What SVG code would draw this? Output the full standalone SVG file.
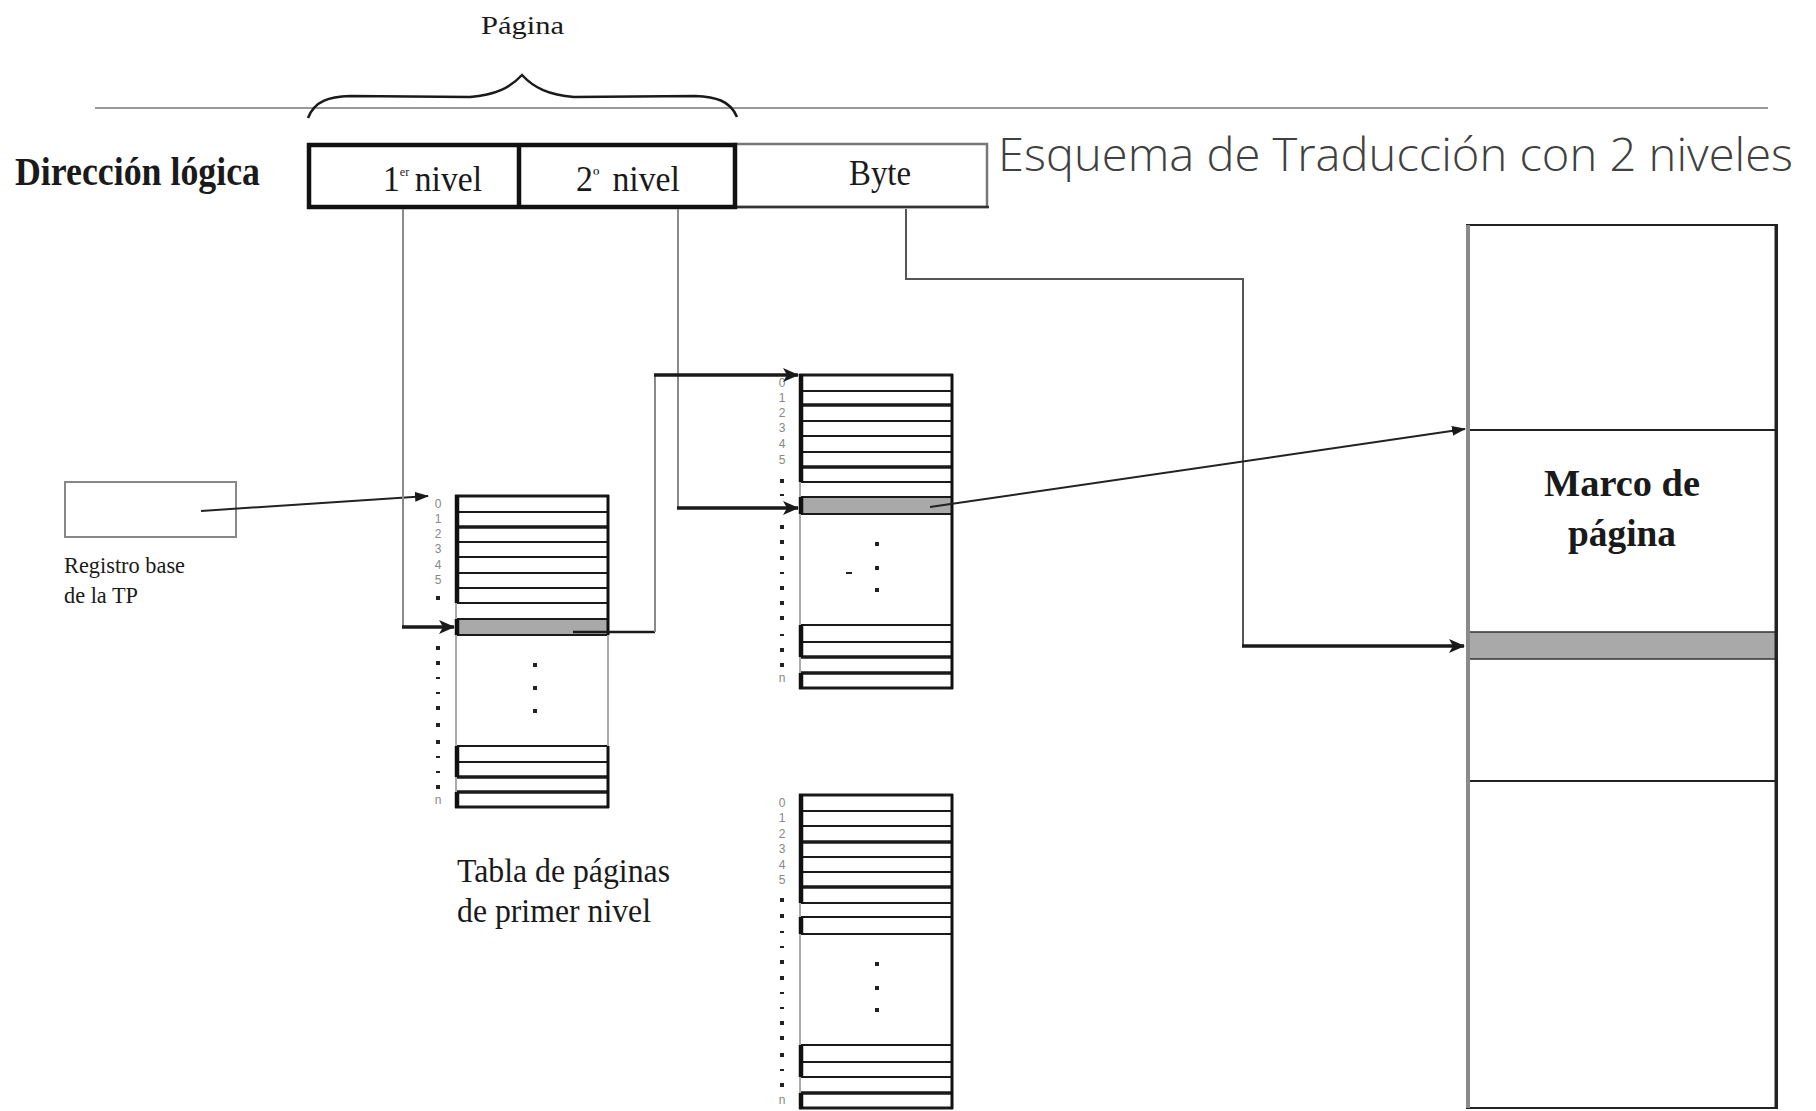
<svg xmlns="http://www.w3.org/2000/svg" width="1816" height="1111" viewBox="0 0 1816 1111">
<style>
.serif{font-family:"Liberation Serif","Times New Roman",serif;fill:#1a1a1a}
.bold{font-weight:bold}
.idx{font-family:"Liberation Sans",Arial,sans-serif;font-size:12px;fill:#888;text-anchor:middle}
.row{stroke:#1a1a1a;stroke-width:2}
.rowb{stroke:#1a1a1a;stroke-width:3.5}
.edge{stroke:#111;stroke-width:4.5}
.edger{stroke:#111;stroke-width:3}
.edgeg{stroke:#aaa;stroke-width:2}
.conn-g{stroke:#8a8a8a;stroke-width:2;fill:none}
.conn-d{stroke:#555;stroke-width:2;fill:none}
.conn-k{stroke:#1a1a1a;stroke-width:3.5;fill:none}
.dot{fill:#222}
</style>
<defs>
<marker id="ah" markerUnits="userSpaceOnUse" markerWidth="16" markerHeight="14" refX="15" refY="7" orient="auto">
<path d="M0,0 L16,7 L0,14 L4,7 z" fill="#1a1a1a"/>
</marker>
<marker id="as" markerUnits="userSpaceOnUse" markerWidth="14" markerHeight="10" refX="13" refY="5" orient="auto">
<path d="M0,0 L14,5 L0,10 z" fill="#1a1a1a"/>
</marker>
</defs>
<rect width="1816" height="1111" fill="#fff"/>

<g id="header">
<line x1="95" y1="108" x2="1768" y2="108" stroke="#777" stroke-width="1.5"/>
<path d="M308,118 C315,100 330,97 350,96 L470,97 C495,95 510,88 522,75 C534,88 549,95 574,97 L695,96 C715,97 730,100 737,117" fill="none" stroke="#1a1a1a" stroke-width="2.5"/>
<text class="serif" x="481" y="34" font-size="26" textLength="83" lengthAdjust="spacingAndGlyphs">Página</text>
<text class="serif bold" x="15" y="185" font-size="40" textLength="245" lengthAdjust="spacingAndGlyphs">Dirección lógica</text>
<text x="998" y="171" font-family="'Open Sans','Noto Sans',sans-serif" font-weight="300" font-size="46" fill="#404040" textLength="795" lengthAdjust="spacingAndGlyphs">Esquema de Traducción con 2 niveles</text>
</g>

<g id="direccion">
<rect x="735" y="144" width="252" height="63" fill="#fff" stroke="#777" stroke-width="2.5"/>
<line x1="735" y1="207" x2="989" y2="207" stroke="#333" stroke-width="2.5"/>
<rect x="309" y="145" width="426" height="62" fill="none" stroke="#111" stroke-width="4.5"/>
<line x1="519" y1="145" x2="519" y2="207" stroke="#111" stroke-width="4.5"/>
<text class="serif" x="383" y="191" font-size="36" textLength="99" lengthAdjust="spacingAndGlyphs">1<tspan font-size="13" dy="-15">er</tspan><tspan dx="6" dy="15">nivel</tspan></text>
<text class="serif" x="576" y="191" font-size="36" textLength="104" lengthAdjust="spacingAndGlyphs">2<tspan font-size="22" dy="-8">º</tspan><tspan dx="14" dy="8">nivel</tspan></text>
<text class="serif" x="849" y="185" font-size="36" textLength="62" lengthAdjust="spacingAndGlyphs">Byte</text>
</g>

<g id="registro">
<rect x="65" y="482" width="171" height="55" fill="none" stroke="#888" stroke-width="2"/>
<text class="serif" x="64" y="573" font-size="23" fill="#333" textLength="121" lengthAdjust="spacingAndGlyphs">Registro base</text>
<text class="serif" x="64" y="603" font-size="23" fill="#333" textLength="74" lengthAdjust="spacingAndGlyphs">de la TP</text>
</g>

<g id="tabla1">
<rect x="455" y="496" width="154" height="311" fill="#fff"/>
<rect x="455" y="619" width="154" height="16" fill="#a9a9a9"/>
<g class="row">
<line x1="455" y1="496" x2="609" y2="496" stroke-width="3"/>
<line x1="455" y1="512" x2="609" y2="512"/>
<line x1="455" y1="542" x2="609" y2="542"/>
<line x1="455" y1="557" x2="609" y2="557"/>
<line x1="455" y1="573" x2="609" y2="573"/>
<line x1="455" y1="588" x2="609" y2="588"/>
<line x1="455" y1="603" x2="609" y2="603"/>
<line x1="455" y1="619" x2="609" y2="619"/>
<line x1="455" y1="635" x2="609" y2="635"/>
<line x1="455" y1="746" x2="609" y2="746"/>
<line x1="455" y1="762" x2="609" y2="762"/>
<line x1="455" y1="807" x2="609" y2="807" stroke-width="3"/>
</g>
<line class="rowb" x1="455" y1="527" x2="609" y2="527"/>
<line class="rowb" x1="455" y1="777" x2="609" y2="777"/>
<line class="rowb" x1="455" y1="792" x2="609" y2="792"/>
<line class="edgeg" x1="456" y1="603" x2="456" y2="619"/>
<line class="edgeg" x1="456" y1="635" x2="456" y2="746"/>
<line class="edgeg" x1="456" y1="777" x2="456" y2="792"/>
<line class="edgeg" x1="608" y1="635" x2="608" y2="746"/>
<line class="edge" x1="457" y1="495" x2="457" y2="603"/>
<line class="edge" x1="457" y1="619" x2="457" y2="635"/>
<line class="edge" x1="457" y1="746" x2="457" y2="777"/>
<line class="edge" x1="457" y1="792" x2="457" y2="808"/>
<line class="edger" x1="608" y1="495" x2="608" y2="635"/>
<line class="edger" x1="608" y1="746" x2="608" y2="808"/>
<rect class="dot" x="533" y="663" width="4" height="4"/>
<rect class="dot" x="533" y="686" width="4" height="4"/>
<rect class="dot" x="533" y="709" width="4" height="4"/>
<text class="idx" x="438" y="508">0</text>
<text class="idx" x="438" y="523">1</text>
<text class="idx" x="438" y="538">2</text>
<text class="idx" x="438" y="553">3</text>
<text class="idx" x="438" y="569">4</text>
<text class="idx" x="438" y="584">5</text>
<g class="dot">
<rect x="436" y="596" width="4" height="4"/>
<rect x="436" y="646" width="4" height="4"/>
<rect x="436" y="661" width="4" height="4"/>
<rect x="436" y="677" width="4" height="2"/>
<rect x="436" y="692" width="4" height="2"/>
<rect x="436" y="706" width="4" height="4"/>
<rect x="436" y="723" width="4" height="4"/>
<rect x="436" y="740" width="4" height="4"/>
<rect x="436" y="756" width="4" height="2"/>
<rect x="436" y="771" width="4" height="2"/>
<rect x="436" y="785" width="4" height="4"/>
</g>
<text class="idx" x="438" y="804">n</text>
<text class="serif" x="457" y="882" font-size="34" textLength="213" lengthAdjust="spacingAndGlyphs">Tabla de páginas</text>
<text class="serif" x="457" y="922" font-size="34" textLength="194" lengthAdjust="spacingAndGlyphs">de primer nivel</text>
</g>

<g id="tabla2">
<rect x="799" y="375" width="154" height="313" fill="#fff"/>
<rect x="799" y="497" width="154" height="17" fill="#a9a9a9"/>
<g class="row">
<line x1="799" y1="375" x2="953" y2="375" stroke-width="3"/>
<line x1="799" y1="391" x2="953" y2="391"/>
<line x1="799" y1="421" x2="953" y2="421"/>
<line x1="799" y1="436" x2="953" y2="436"/>
<line x1="799" y1="452" x2="953" y2="452"/>
<line x1="799" y1="482" x2="953" y2="482"/>
<line x1="799" y1="497" x2="953" y2="497"/>
<line x1="799" y1="514" x2="953" y2="514"/>
<line x1="799" y1="625" x2="953" y2="625"/>
<line x1="799" y1="642" x2="953" y2="642"/>
<line x1="799" y1="688" x2="953" y2="688" stroke-width="3"/>
</g>
<line class="rowb" x1="799" y1="405" x2="953" y2="405"/>
<line class="rowb" x1="799" y1="467" x2="953" y2="467"/>
<line class="rowb" x1="799" y1="657" x2="953" y2="657"/>
<line class="rowb" x1="799" y1="673" x2="953" y2="673"/>
<line class="edgeg" x1="800" y1="482" x2="800" y2="497"/>
<line class="edgeg" x1="800" y1="514" x2="800" y2="625"/>
<line class="edgeg" x1="800" y1="657" x2="800" y2="673"/>
<line class="edge" x1="801" y1="374" x2="801" y2="482"/>
<line class="edge" x1="801" y1="497" x2="801" y2="514"/>
<line class="edge" x1="801" y1="625" x2="801" y2="657"/>
<line class="edge" x1="801" y1="673" x2="801" y2="689"/>
<line class="edger" x1="952" y1="374" x2="952" y2="689"/>
<rect class="dot" x="875" y="542" width="4" height="4"/>
<rect class="dot" x="875" y="566" width="4" height="4"/>
<rect class="dot" x="875" y="588" width="4" height="4"/>
<rect class="dot" x="846" y="572" width="6" height="2"/>
<text class="idx" x="782" y="387">0</text>
<text class="idx" x="782" y="402">1</text>
<text class="idx" x="782" y="417">2</text>
<text class="idx" x="782" y="432">3</text>
<text class="idx" x="782" y="448">4</text>
<text class="idx" x="782" y="464">5</text>
<g class="dot">
<rect x="780" y="479" width="4" height="4"/>
<rect x="780" y="494" width="4" height="2"/>
<rect x="780" y="525" width="4" height="4"/>
<rect x="780" y="540" width="4" height="4"/>
<rect x="780" y="556" width="4" height="4"/>
<rect x="780" y="572" width="4" height="2"/>
<rect x="780" y="586" width="4" height="4"/>
<rect x="780" y="601" width="4" height="4"/>
<rect x="780" y="616" width="4" height="4"/>
<rect x="780" y="634" width="4" height="2"/>
<rect x="780" y="648" width="4" height="4"/>
<rect x="780" y="663" width="4" height="4"/>
</g>
<text class="idx" x="782" y="682">n</text>
</g>

<g id="tabla3">
<rect x="799" y="795" width="154" height="313" fill="#fff"/>
<g class="row">
<line x1="799" y1="795" x2="953" y2="795" stroke-width="3"/>
<line x1="799" y1="811" x2="953" y2="811"/>
<line x1="799" y1="826" x2="953" y2="826"/>
<line x1="799" y1="857" x2="953" y2="857"/>
<line x1="799" y1="872" x2="953" y2="872"/>
<line x1="799" y1="903" x2="953" y2="903"/>
<line x1="799" y1="917" x2="953" y2="917"/>
<line x1="799" y1="934" x2="953" y2="934"/>
<line x1="799" y1="1045" x2="953" y2="1045"/>
<line x1="799" y1="1062" x2="953" y2="1062"/>
<line x1="799" y1="1077" x2="953" y2="1077"/>
<line x1="799" y1="1108" x2="953" y2="1108" stroke-width="3"/>
</g>
<line class="rowb" x1="799" y1="842" x2="953" y2="842"/>
<line class="rowb" x1="799" y1="887" x2="953" y2="887"/>
<line class="rowb" x1="799" y1="1093" x2="953" y2="1093"/>
<line class="edgeg" x1="800" y1="903" x2="800" y2="917"/>
<line class="edgeg" x1="800" y1="934" x2="800" y2="1045"/>
<line class="edgeg" x1="800" y1="1077" x2="800" y2="1093"/>
<line class="edge" x1="801" y1="794" x2="801" y2="903"/>
<line class="edge" x1="801" y1="917" x2="801" y2="934"/>
<line class="edge" x1="801" y1="1045" x2="801" y2="1077"/>
<line class="edge" x1="801" y1="1093" x2="801" y2="1109"/>
<line class="edger" x1="952" y1="794" x2="952" y2="1109"/>
<rect class="dot" x="875" y="962" width="4" height="4"/>
<rect class="dot" x="875" y="986" width="4" height="4"/>
<rect class="dot" x="875" y="1008" width="4" height="4"/>
<text class="idx" x="782" y="807">0</text>
<text class="idx" x="782" y="822">1</text>
<text class="idx" x="782" y="838">2</text>
<text class="idx" x="782" y="853">3</text>
<text class="idx" x="782" y="869">4</text>
<text class="idx" x="782" y="884">5</text>
<g class="dot">
<rect x="780" y="898" width="4" height="4"/>
<rect x="780" y="914" width="4" height="4"/>
<rect x="780" y="931" width="4" height="2"/>
<rect x="780" y="946" width="4" height="2"/>
<rect x="780" y="960" width="4" height="4"/>
<rect x="780" y="976" width="4" height="4"/>
<rect x="780" y="992" width="4" height="2"/>
<rect x="780" y="1007" width="4" height="2"/>
<rect x="780" y="1021" width="4" height="4"/>
<rect x="780" y="1036" width="4" height="4"/>
<rect x="780" y="1053" width="4" height="4"/>
<rect x="780" y="1069" width="4" height="2"/>
<rect x="780" y="1083" width="4" height="4"/>
</g>
<text class="idx" x="782" y="1104">n</text>
</g>

<g id="marco">
<rect x="1467" y="225" width="310" height="883" fill="#fff" stroke="#222" stroke-width="2"/>
<rect x="1467" y="632" width="310" height="27" fill="#a9a9a9" stroke="#333" stroke-width="1.5"/>
<line x1="1467" y1="430" x2="1777" y2="430" stroke="#222" stroke-width="2"/>
<line x1="1467" y1="781" x2="1777" y2="781" stroke="#222" stroke-width="2"/>
<line x1="1468" y1="225" x2="1468" y2="1108" stroke="#8a8a8a" stroke-width="4"/>
<line x1="1776" y1="225" x2="1776" y2="1108" stroke="#222" stroke-width="3"/>
<text class="serif bold" x="1622" y="496" font-size="38" text-anchor="middle" textLength="156" lengthAdjust="spacingAndGlyphs">Marco de</text>
<text class="serif bold" x="1622" y="546" font-size="38" text-anchor="middle" textLength="108" lengthAdjust="spacingAndGlyphs">página</text>
</g>

<g id="connectors">
<line x1="201" y1="511" x2="428" y2="496" stroke="#222" stroke-width="2" marker-end="url(#as)"/>
<path class="conn-g" d="M403,209 V627"/>
<path class="conn-k" d="M402,627 H454" marker-end="url(#ah)"/>
<path class="conn-g" d="M678,209 V508"/>
<path class="conn-k" d="M677,508 H798" marker-end="url(#ah)"/>
<path d="M573,632 H655" stroke="#1a1a1a" stroke-width="2.5" fill="none"/>
<path class="conn-g" d="M655,632 V375"/>
<path class="conn-k" d="M654,375 H798" marker-end="url(#ah)"/>
<path class="conn-d" d="M906,209 V279 H1243 V646"/>
<path class="conn-k" d="M1242,646 H1464" marker-end="url(#ah)"/>
<line x1="930" y1="507" x2="1465" y2="429" stroke="#222" stroke-width="2" marker-end="url(#as)"/>
</g>
</svg>
